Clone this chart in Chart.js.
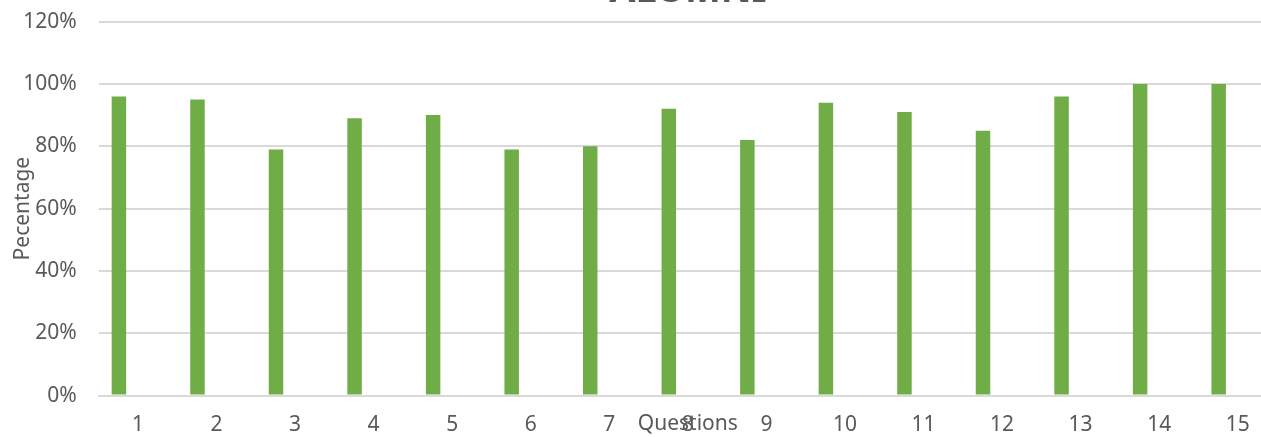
<!DOCTYPE html>
<html>
<head>
<meta charset="utf-8">
<script src="https://cdn.jsdelivr.net/npm/chart.js@4"></script>
<style>
    html, body { margin: 0; padding: 0; background: #fff; overflow: hidden; }
    #wrap { position: absolute; left: 0; top: -32px; width: 1277px; height: 469px; }
</style>
</head>
<body>
<div id="wrap"><canvas id="chart"></canvas></div>
<script>
const questions = ['1','2','3','4','5','6','7','8','9','10','11','12','13','14','15'];
const alumni = [96, 95, 79, 89, 90, 79, 80, 92, 82, 94, 91, 85, 96, 100, 100];
// second series is empty in the original, it only pushes the green bars left
const emptySeries = [null, null, null, null, null, null, null, null, null, null, null, null, null, null, null];

const grigio = '#595959';
const fontBase = { family: '"Noto Sans", sans-serif', size: 21 };

new Chart(document.getElementById('chart').getContext('2d'), {
    type: 'bar',
    data: {
        labels: questions,
        datasets: [
            {
                label: 'Alumni',
                data: alumni,
                backgroundColor: '#70AD47',
                borderWidth: 0,
                categoryPercentage: 0.97,
                barPercentage: 0.38
            },
            {
                label: '',
                data: emptySeries,
                backgroundColor: '#A5A5A5',
                categoryPercentage: 0.97,
                barPercentage: 0.38
            }
        ]
    },
    options: {
        responsive: true,
        maintainAspectRatio: false,
        animation: false,
        layout: { padding: { left: 10, right: 0, top: 0, bottom: 0 } },
        plugins: {
            legend: { display: false },
            tooltip: { enabled: false },
            title: {
                display: true,
                text: 'ALUMNI',
                fullSize: false,
                color: grigio,
                font: { family: '"Noto Sans", sans-serif', size: 38, weight: 'bold' },
                padding: { top: 0, bottom: 8 }
            }
        },
        scales: {
            x: {
                grid: { display: false, drawTicks: false },
                border: { display: true, color: '#d9d9d9', width: 2 },
                ticks: { color: grigio, font: fontBase, padding: 17, maxRotation: 0 },
                title: {
                    display: true,
                    text: 'Questions',
                    color: grigio,
                    font: fontBase,
                    padding: { top: -43, bottom: 0 }
                }
            },
            y: {
                min: 0,
                max: 120,
                ticks: {
                    stepSize: 20,
                    color: grigio,
                    font: fontBase,
                    padding: 22,
                    callback: v => v + '%'
                },
                grid: { color: '#d9d9d9', lineWidth: 2, drawTicks: false },
                border: { display: false },
                title: {
                    display: true,
                    text: 'Pecentage',
                    color: grigio,
                    font: fontBase,
                    padding: { top: 0, bottom: -34 }
                }
            }
        }
    }
});
</script>
</body>
</html>
